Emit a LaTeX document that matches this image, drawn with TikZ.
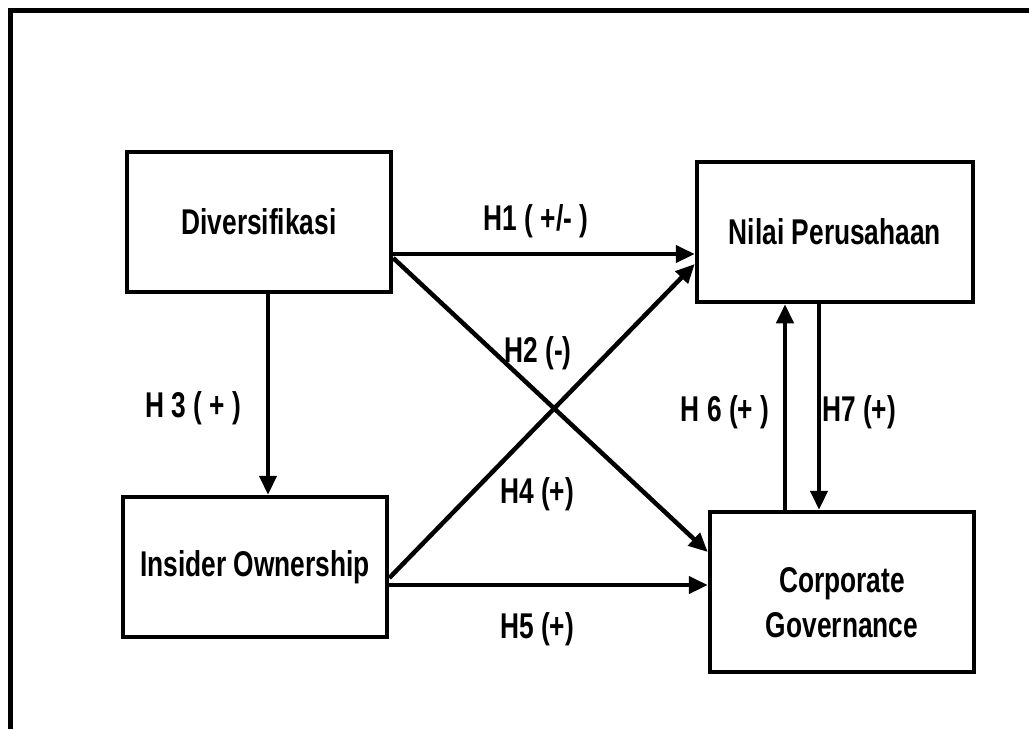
\documentclass[tikz,border=0pt]{standalone}
\usepackage{fontspec}
\setmainfont{Liberation Sans}[FakeStretch=0.735]
\usetikzlibrary{arrows.meta}
\begin{document}
\begin{tikzpicture}[x=1pt,y=-1pt,
  box/.style={draw, line width=4.5pt, rectangle, inner sep=0pt, align=center,
    font=\fontsize{35.8}{45}\selectfont\bfseries},
  lbl/.style={inner sep=0pt, align=center, font=\fontsize{35.8}{45}\selectfont\bfseries},
  arr/.style={line width=4.5pt, -{Triangle[length=19pt,width=17pt]}},
  frame/.style={line width=5pt}]
\useasboundingbox (0,0) rectangle (1029,729);
\draw[frame] (10.5,729) -- (10.5,10.5) -- (1029,10.5);

\node[box, minimum width=264pt, minimum height=140pt] (div) at (259,222) {Diversifikasi};
\node[box, minimum width=276pt, minimum height=140pt] (nil) at (835,232) {Nilai Perusahaan};
\node[box, minimum width=264pt, minimum height=140pt] (ins) at (255,567) {Insider Ownership};
\node[box, minimum width=264pt, minimum height=160pt] (cg) at (842,592) {};
\node[lbl] (cgt) at (842,603) {Corporate\\Governance};

\draw[arr] (div.east |- 0,254) -- (nil.west |- 0,254);
\draw[arr] (div.east |- 0,258) -- (cg.west |- 0,552);
\draw[arr] (div.south -| 268,0) -- (ins.north -| 268,0);
\draw[arr] (ins.east |- 0,578) -- (nil.west |- 0,264);
\draw[arr] (ins.east |- 0,585) -- (cg.west |- 0,585);
\draw[arr] (cg.north -| 785,0) -- (nil.south -| 785,0);
\draw[arr] (nil.south -| 819,0) -- (cg.north -| 819,0);

\node[lbl] (h1) at (536,221) {H1 ( +/- )};
\node[lbl] (h2) at (538,353) {H2 (-)};
\node[lbl] (h3) at (193,408) {H 3 ( + )};
\node[lbl] (h4) at (537,494) {H4 (+)};
\node[lbl] (h5) at (537,629) {H5 (+)};
\node[lbl] (h6) at (725,412) {H 6 (+ )};
\node[lbl] (h7) at (859,412) {H7 (+)};
\end{tikzpicture}
\end{document}
